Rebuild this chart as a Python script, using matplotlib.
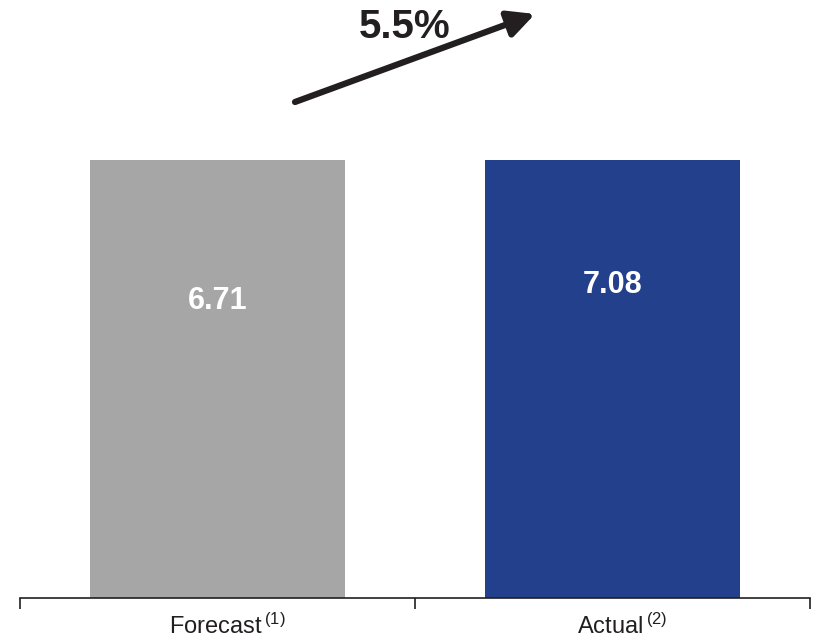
import matplotlib
matplotlib.use("Agg")
import matplotlib.pyplot as plt
from matplotlib.transforms import ScaledTranslation

categories = ["Forecast", "Actual"]
footnotes = ["1", "2"]
values = [6.71, 7.08]
growth_label = "5.5%"
bar_colors = ["#A6A6A6", "#22408C"]

plt.rcParams["font.family"] = ["Liberation Sans", "DejaVu Sans"]
plt.rcParams["mathtext.fontset"] = "custom"
plt.rcParams["mathtext.rm"] = "Liberation Sans"
plt.rcParams["mathtext.it"] = "Liberation Sans"

fig = plt.figure(figsize=(8.13, 6.42), dpi=100)
ax = fig.add_axes([20 / 813, 44 / 642, 790 / 813, 438 / 642])

x = list(range(len(categories)))
ax.bar(x, values, width=0.645, color=bar_colors, zorder=2)
ax.set_xlim(-0.5, len(categories) - 0.5)
ax.set_ylim(0, 4.95)

for xi, v in zip(x, values):
    ax.text(xi, v / 2, f"{v:.2f}", ha="center", va="center",
            color="white", fontsize=22, fontweight="bold", zorder=3)

for side in ("top", "right", "left"):
    ax.spines[side].set_visible(False)
ax.spines["bottom"].set_color("#231F20")
ax.spines["bottom"].set_linewidth(1.2)
ax.set_yticks([])

ax.set_xticks(x)
ax.set_xticklabels([f"{c}$\\,^{{({n})}}$" for c, n in zip(categories, footnotes)],
                   fontsize=17, color="#231F20")
ax.tick_params(axis="x", which="major", length=0, pad=11)
shift = ScaledTranslation(10 / 100, 0, fig.dpi_scale_trans)
for lbl in ax.get_xticklabels():
    lbl.set_transform(lbl.get_transform() + shift)
ax.set_xticks([i - 0.5 for i in range(len(categories) + 1)], minor=True)
ax.tick_params(axis="x", which="minor", length=8, width=1.2,
               color="#231F20", direction="out")

# growth arrow between the two bars
fig.add_artist(matplotlib.patches.FancyArrowPatch(
    (295 / 813, 1 - 102 / 642), (535 / 813, 1 - 14 / 642),
    transform=fig.transFigure, arrowstyle="-|>,head_length=16,head_width=8",
    mutation_scale=1, linewidth=4.5, color="#231F20", shrinkA=0, shrinkB=0))
fig.text(405 / 813, 1 - 27 / 642, growth_label, ha="center", va="center",
         fontsize=29, fontweight="bold", color="#231F20")

fig.savefig("out.png", dpi=100)
